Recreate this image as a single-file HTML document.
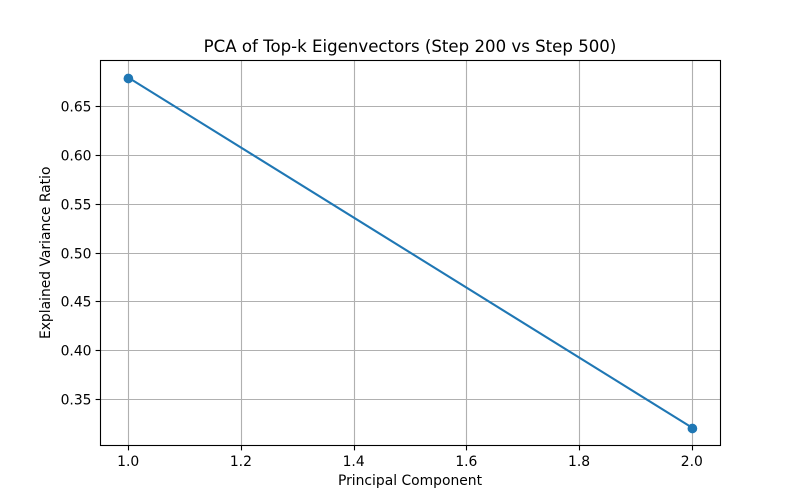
<!DOCTYPE html>
<html>
<head>
<meta charset="utf-8">
<title>PCA of Top-k Eigenvectors</title>
<style>
html,body{margin:0;padding:0;background:#fff;}
svg{display:block;}
text{font-family:"DejaVu Sans",sans-serif;fill:#000;}
</style>
</head>
<body>
<svg id="chart" width="800" height="500" viewBox="0 0 800 500" xmlns="http://www.w3.org/2000/svg">
<rect x="0" y="0" width="800" height="500" fill="#ffffff"/>
<g id="grid"></g>
<g id="series"></g>
<rect x="100.5" y="60.5" width="620" height="385" fill="none" stroke="#000" stroke-width="1.11"/>
<g id="ticks"></g>
<text x="410" y="52" text-anchor="middle" font-size="16.6">PCA of Top-k Eigenvectors (Step 200 vs Step 500)</text>
<text x="410" y="485" text-anchor="middle" font-size="13.89">Principal Component</text>
<text transform="translate(50,252.8) rotate(-90)" text-anchor="middle" font-size="13.89">Explained Variance Ratio</text>
</svg>
<script>
const components = [1, 2];
const varianceRatio = [0.6804, 0.3218];
const xTicks = [1.0, 1.2, 1.4, 1.6, 1.8, 2.0];
const yTicks = [0.35, 0.40, 0.45, 0.50, 0.55, 0.60, 0.65];

const NS = 'http://www.w3.org/2000/svg';
const L = 100, R = 720, T = 60, B = 445;
const xMin = Math.min(...components), xMax = Math.max(...components);
const yMin = Math.min(...varianceRatio), yMax = Math.max(...varianceRatio);
const xPad = (xMax - xMin) * 0.05, yPad = (yMax - yMin) * 0.05;
function xScale(v) { return L + (v - (xMin - xPad)) / ((xMax + xPad) - (xMin - xPad)) * (R - L); }
function yScale(v) { return B - (v - (yMin - yPad)) / ((yMax + yPad) - (yMin - yPad)) * (B - T); }
function snapX(px) { return Math.round(px) + 0.5; }
function snapY(px) { return Math.round(px) - 0.5; }
function make(tag, attrs, parent) {
  const el = document.createElementNS(NS, tag);
  for (const k in attrs) el.setAttribute(k, attrs[k]);
  parent.appendChild(el);
  return el;
}
const grid = document.getElementById('grid');
const ticks = document.getElementById('ticks');
const series = document.getElementById('series');

xTicks.forEach(function (t) {
  const x = snapX(xScale(t));
  const g = make('line', {x1: x, x2: x, y1: T, y2: B, stroke: '#b0b0b0', 'stroke-width': 1.11}, grid);
  
  
  const m = make('line', {x1: x, x2: x, y1: B + 0.5, y2: B + 5.4, stroke: '#000', 'stroke-width': 1.11}, ticks);
  
  
  const l = make('text', {x: xScale(t), y: B + 21, 'text-anchor': 'middle', 'font-size': 13.89}, ticks);
  
  
  l.textContent = t.toFixed(1);
});
yTicks.forEach(function (t) {
  const y = snapY(yScale(t));
  const g = make('line', {x1: L, x2: R, y1: y, y2: y, stroke: '#b0b0b0', 'stroke-width': 1.11}, grid);
  
  
  const m = make('line', {x1: L - 4.4, x2: L + 0.5, y1: y, y2: y, stroke: '#000', 'stroke-width': 1.11}, ticks);
  
  
  const l = make('text', {x: L - 8.5, y: y + 5, 'text-anchor': 'end', 'font-size': 13.89}, ticks);
  
  
  l.textContent = t.toFixed(2);
});

const pts = components.map(function (c, i) { return xScale(c) + ',' + yScale(varianceRatio[i]); }).join(' ');
const line = make('polyline', {points: pts, fill: 'none', stroke: '#1f77b4', 'stroke-width': 2.08}, series);


components.forEach(function (c, i) {
  const p = make('circle', {cx: Math.round(xScale(c)) + 0.4, cy: Math.round(yScale(varianceRatio[i]) + 0.01) + 0.5, r: 4.86, fill: '#1f77b4'}, series);
  
  
});
</script>
</body>
</html>
